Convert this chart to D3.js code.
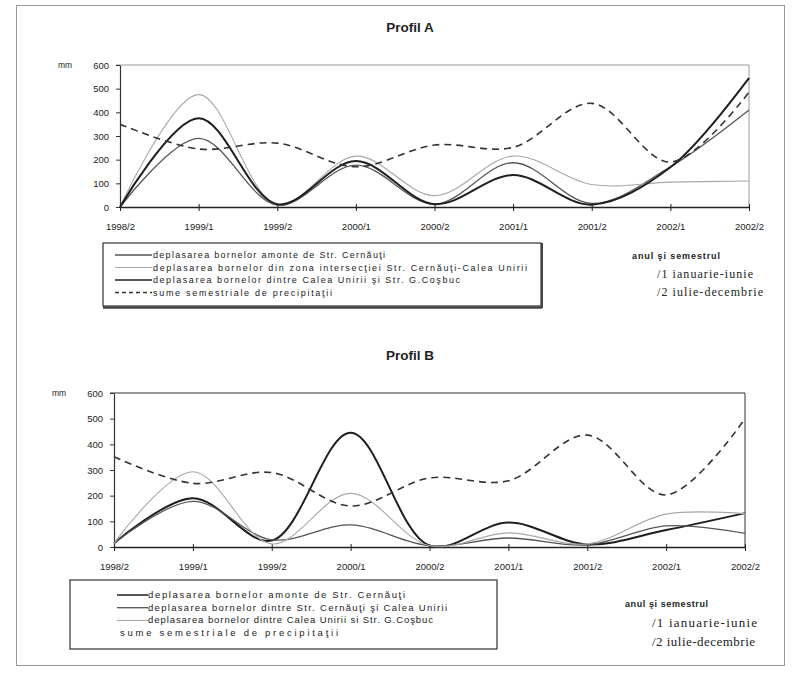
<!DOCTYPE html>
<html>
<head>
<meta charset="utf-8">
<script src="https://cdn.jsdelivr.net/npm/d3@7"></script>
<style>
  body { margin: 0; background: #fff; }
  text { font-family: "Liberation Sans", Arial, sans-serif; fill: #222; }
</style>
</head>
<body>
<div id="chart"></div>
<script>
// semestre
const periods = ["1998/2", "1999/1", "1999/2", "2000/1", "2000/2", "2001/1", "2001/2", "2002/1", "2002/2"];
const yTicks = [0, 100, 200, 300, 400, 500, 600];

// Profil A (mm)
const aAmonte = [0, 290, 8, 177, 12, 187, 15, 170, 410];
const aIntersectie = [0, 475, 10, 215, 48, 215, 95, 105, 110];
const aCalea = [0, 375, 12, 194, 12, 135, 10, 168, 545];
const aPrecip = [350, 245, 270, 170, 262, 252, 438, 190, 485];
const aNames = [
  "deplasarea bornelor amonte de Str. Cernăuţi",
  "deplasarea bornelor din zona intersecţiei Str. Cernăuţi-Calea Unirii",
  "deplasarea bornelor dintre Calea Unirii şi Str. G.Coşbuc",
  "sume semestriale de precipitaţii"
];

// Profil B (mm)
const bAmonte = [15, 190, 25, 445, 5, 95, 10, 66, 132];
const bCernauti = [15, 178, 28, 86, 5, 35, 8, 82, 53];
const bCalea = [15, 293, 12, 209, 5, 55, 12, 128, 130];
const bPrecip = [352, 248, 290, 160, 269, 258, 436, 203, 500];
const bNames = [
  "deplasarea bornelor amonte de Str. Cernăuţi",
  "deplasarea bornelor dintre Str. Cernăuţi şi Calea Unirii",
  "deplasarea bornelor dintre Calea Unirii si Str. G.Coşbuc",
  "sume semestriale de precipitaţii"
];

const noteTitle = "anul şi semestrul";
const noteLines = ["/1 ianuarie-iunie", "/2 iulie-decembrie"];

const W = 793, H = 673;
const svg = d3.select("#chart").append("svg")
  .attr("width", W).attr("height", H);

// rama scanata
svg.append("rect")
  .attr("x", 16.5).attr("y", 5.5).attr("width", 768).attr("height", 660)
  .attr("fill", "none").attr("stroke", "#999").attr("stroke-width", 1);

const styles = {
  medium: { stroke: "#555", width: 1.3, dash: null },
  light: { stroke: "#a8a8a8", width: 1.1, dash: null },
  dark: { stroke: "#1e1e1e", width: 2, dash: null },
  dashed: { stroke: "#333", width: 1.6, dash: "7,5" }
};

function drawChart(cfg) {
  const g = svg.append("g");

  g.append("text")
    .attr("x", 410).attr("y", cfg.titleY)
    .attr("text-anchor", "middle")
    .style("font-size", "13.5px").style("font-weight", "bold")
    .text(cfg.title);

  const x = d3.scalePoint().domain(periods).range([cfg.left, cfg.right]);
  const y = d3.scaleLinear().domain([0, 600]).range([cfg.bottom, cfg.top]);

  // marginea de sus si din dreapta a zonei de grafic
  g.append("line")
    .attr("x1", cfg.left - 4).attr("x2", cfg.right)
    .attr("y1", y(600)).attr("y2", y(600))
    .attr("stroke", cfg.frameColor).attr("stroke-width", 1.2);
  g.append("line")
    .attr("x1", cfg.right).attr("x2", cfg.right)
    .attr("y1", y(600)).attr("y2", y(0))
    .attr("stroke", cfg.frameColor).attr("stroke-width", 1);

  const yAxis = g.append("g")
    .attr("transform", `translate(${cfg.left},0)`)
    .call(d3.axisLeft(y).tickValues(yTicks).tickSize(4).tickSizeOuter(0).tickPadding(7));
  yAxis.select(".domain").attr("stroke", "#333").attr("stroke-width", 1.2);
  yAxis.selectAll(".tick line").attr("stroke", "#333");
  yAxis.selectAll("text")
    .style("font-size", "9.5px").style("font-family", "Liberation Sans, Arial, sans-serif")
    .attr("fill", "#222");

  g.append("text")
    .attr("x", cfg.left - 62).attr("y", y(600) + 3)
    .style("font-size", "8.5px")
    .text("mm");

  const xAxis = g.append("g")
    .attr("transform", `translate(0,${cfg.bottom})`)
    .call(d3.axisBottom(x).tickSize(3).tickSizeOuter(0).tickPadding(cfg.xPad));
  xAxis.select(".domain").attr("stroke", "#222").attr("stroke-width", 1.6);
  xAxis.selectAll(".tick line").attr("y1", -3).attr("y2", 4).attr("stroke", "#222");
  xAxis.selectAll("text")
    .style("font-size", "9.5px").style("font-family", "Liberation Sans, Arial, sans-serif")
    .attr("fill", "#222");

  const line = d3.line()
    .x((d, i) => x(periods[i]))
    .y(d => y(d))
    .curve(d3.curveCatmullRom.alpha(0.5));

  cfg.series.forEach(s => {
    const st = styles[s.style];
    g.append("path")
      .datum(s.values)
      .attr("d", line)
      .attr("fill", "none")
      .attr("stroke", st.stroke)
      .attr("stroke-width", st.width)
      .attr("stroke-dasharray", st.dash);
  });

  // legenda
  const lg = cfg.legend;
  g.append("rect")
    .attr("x", lg.x).attr("y", lg.y).attr("width", lg.w).attr("height", lg.h)
    .attr("fill", "#fff").attr("stroke", "#333").attr("stroke-width", 1.2);
  if (lg.shadow) {
    g.append("line")
      .attr("x1", lg.x).attr("x2", lg.x + lg.w + 1)
      .attr("y1", lg.y + lg.h + 1.5).attr("y2", lg.y + lg.h + 1.5)
      .attr("stroke", "#444").attr("stroke-width", 2.5);
    g.append("line")
      .attr("x1", lg.x + lg.w + 1).attr("x2", lg.x + lg.w + 1)
      .attr("y1", lg.y).attr("y2", lg.y + lg.h + 2)
      .attr("stroke", "#444").attr("stroke-width", 2);
  }
  cfg.series.forEach((s, i) => {
    const st = styles[s.style];
    const ry = lg.y + lg.rowTop + i * lg.rowGap;
    const last = lg.noSampleLast && i === cfg.series.length - 1;
    if (!last) {
      g.append("line")
        .attr("x1", lg.sx1).attr("x2", lg.sx2)
        .attr("y1", ry).attr("y2", ry)
        .attr("stroke", st.stroke)
        .attr("stroke-width", Math.min(st.width, 1.5))
        .attr("stroke-dasharray", st.dash ? "4,3" : null);
    }
    g.append("text")
      .attr("x", last ? lg.lastX : lg.tx).attr("y", ry + 3)
      .attr("textLength", lg.lengths[i])
      .attr("lengthAdjust", "spacing")
      .style("font-size", lg.font)
      .text(s.name);
  });

  // nota: anul si semestrul
  const nt = cfg.note;
  g.append("text")
    .attr("x", nt.x).attr("y", nt.y)
    .attr("textLength", nt.titleLen).attr("lengthAdjust", "spacing")
    .style("font-size", "9px").style("font-weight", "bold")
    .text(noteTitle);
  noteLines.forEach((t, i) => {
    g.append("text")
      .attr("x", nt.x2).attr("y", nt.y + nt.gap * (i + 1))
      .attr("textLength", nt.lens[i]).attr("lengthAdjust", "spacing")
      .style("font-family", "Liberation Serif, Times New Roman, serif")
      .style("font-size", nt.font)
      .text(t);
  });
}

drawChart({
  title: "Profil A", titleY: 32,
  left: 120, right: 749, top: 65, bottom: 207, xPad: 13,
  frameColor: "#999",
  series: [
    { name: aNames[0], values: aAmonte, style: "medium" },
    { name: aNames[1], values: aIntersectie, style: "light" },
    { name: aNames[2], values: aCalea, style: "dark" },
    { name: aNames[3], values: aPrecip, style: "dashed" }
  ],
  legend: {
    x: 103, y: 243, w: 438, h: 63, shadow: true,
    rowTop: 12, rowGap: 12.5, sx1: 115, sx2: 152, tx: 153,
    font: "9px", lengths: [232, 374, 307, 179]
  },
  note: { x: 632, y: 259, x2: 657, gap: 18.5, titleLen: 88, lens: [96, 106], font: "12px" }
});

drawChart({
  title: "Profil B", titleY: 360,
  left: 114, right: 745, top: 393, bottom: 547, xPad: 13,
  frameColor: "#333",
  series: [
    { name: bNames[0], values: bAmonte, style: "dark" },
    { name: bNames[1], values: bCernauti, style: "medium" },
    { name: bNames[2], values: bCalea, style: "light" },
    { name: bNames[3], values: bPrecip, style: "dashed" }
  ],
  legend: {
    x: 70, y: 580, w: 427, h: 69, shadow: false,
    rowTop: 15, rowGap: 12.7, sx1: 117, sx2: 148, tx: 148,
    noSampleLast: true, lastX: 120,
    font: "9.5px", lengths: [257, 299, 285, 218]
  },
  note: { x: 625, y: 607, x2: 652, gap: 19.5, titleLen: 83, lens: [105, 103], font: "13px" }
});
</script>
</body>
</html>
